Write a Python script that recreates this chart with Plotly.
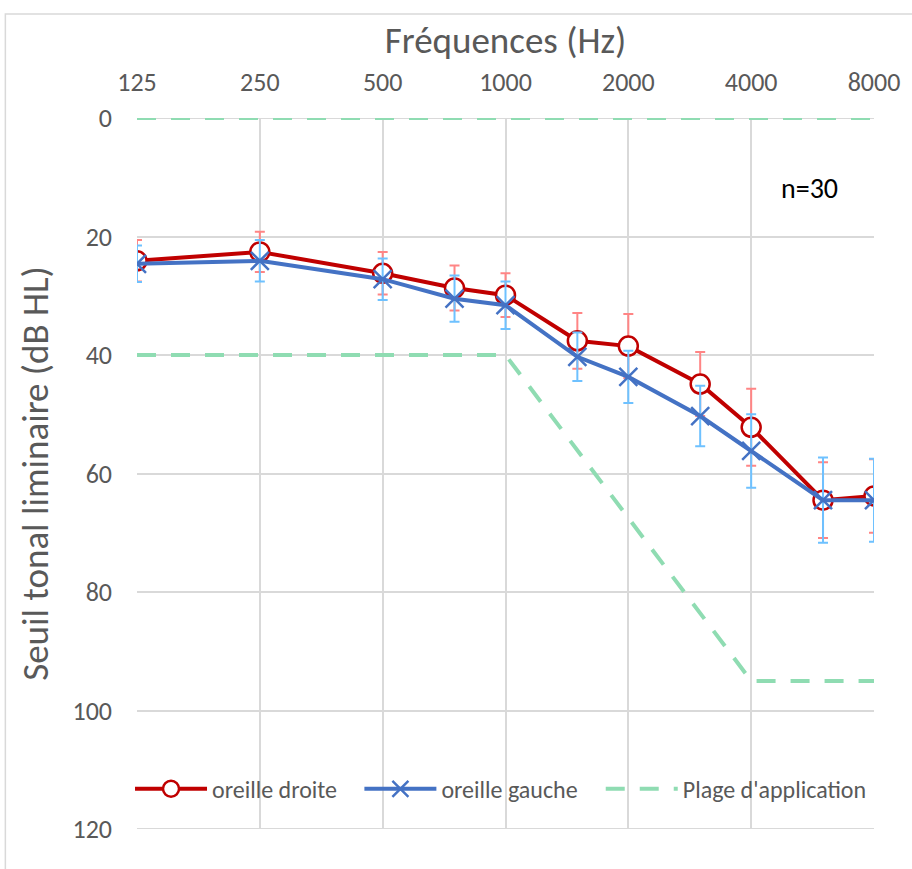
import plotly.graph_objects as go

freqs = [125, 250, 500, 750, 1000, 1500, 2000, 3000, 4000, 6000, 8000]
tick_freqs = [125, 250, 500, 1000, 2000, 4000, 8000]
tick_labels = ["125", "250", "500", "1000", "2000", "4000", "8000"]
y_ticks = [0, 20, 40, 60, 80, 100, 120]

droite = [24.1, 22.6, 26.2, 28.7, 29.9, 37.6, 38.5, 44.9, 52.2, 64.5, 63.8]
droite_err = [3.5, 3.4, 3.6, 3.8, 3.7, 4.7, 5.4, 5.4, 6.5, 6.4, 6.2]
gauche = [24.6, 24.1, 27.2, 30.5, 31.6, 40.3, 43.7, 50.3, 56.2, 64.5, 64.5]
gauche_err = [3.1, 3.5, 3.5, 3.9, 4.0, 4.1, 4.4, 5.1, 6.2, 7.2, 7.0]

plage_haut_f = [125, 8000]
plage_haut = [0, 0]
plage_bas_f = [125, 1000, 4000, 8000]
plage_bas = [40, 40, 95, 95]

FONT = "Carlito, Lato, sans-serif"
GREY = "#595959"
GREEN = "#8FDCB2"
GRID = "#D9D9D9"
DASH = "19px,15px"

fig = go.Figure()

# gridlines at the range edges (0 and 120)
for yv in (0, 120):
    fig.add_shape(type="line", xref="paper", yref="y", x0=0, x1=1, y0=yv, y1=yv,
                  line=dict(color=GRID, width=2), layer="below")

fig.add_trace(go.Scatter(
    x=plage_haut_f, y=plage_haut, mode="lines", name="Plage d'application",
    legendgroup="plage", showlegend=False,
    line=dict(color=GREEN, width=4, dash=DASH), hoverinfo="skip"))
fig.add_trace(go.Scatter(
    x=plage_bas_f, y=plage_bas, mode="lines", name="Plage d'application",
    legendgroup="plage", showlegend=False,
    line=dict(color=GREEN, width=4, dash=DASH), hoverinfo="skip"))

fig.add_trace(go.Scatter(
    x=freqs, y=droite, mode="lines+markers", name="oreille droite",
    legend="legend",
    line=dict(color="#C00000", width=4),
    marker=dict(symbol="circle", size=19, color="white",
                line=dict(color="#C00000", width=2.5)),
    error_y=dict(type="data", array=droite_err, visible=True,
                 color="#FF8585", thickness=2, width=5)))

fig.add_trace(go.Scatter(
    x=freqs, y=gauche, mode="lines+markers", name="oreille gauche",
    legend="legend2",
    line=dict(color="#4472C4", width=4),
    marker=dict(symbol="x-thin", size=18, color="#4472C4",
                line=dict(color="#4472C4", width=2.5)),
    error_y=dict(type="data", array=gauche_err, visible=True,
                 color="#6EC1FF", thickness=2, width=5)))

# legend-only entry for the range
fig.add_trace(go.Scatter(
    x=[None], y=[None], mode="lines", name="Plage d'application",
    legendgroup="plage", legend="legend3",
    line=dict(color=GREEN, width=4, dash=DASH)))

fig.update_xaxes(
    type="log", side="top",
    range=[2.0969100130080562, 3.9030899869919438],
    tickvals=tick_freqs, ticktext=tick_labels,
    showgrid=True, gridcolor=GRID, gridwidth=2,
    zeroline=False, showline=False, ticks="", ticklabelstandoff=21,
    tickfont=dict(family=FONT, size=26, color=GREY),
    title=dict(text="Fréquences (Hz)", font=dict(family=FONT, size=37, color=GREY),
               standoff=0),
)
fig.update_yaxes(
    range=[120, 0], tickvals=y_ticks,
    showgrid=True, gridcolor=GRID, gridwidth=2,
    zeroline=False, showline=False, ticks="", ticklabelstandoff=24,
    tickfont=dict(family=FONT, size=26, color=GREY),
    title=dict(text="Seuil tonal liminaire (dB HL)",
               font=dict(family=FONT, size=37, color=GREY), standoff=12),
)

fig.add_annotation(x=0.913, y=0.9015, xref="paper", yref="paper",
                   xanchor="center", yanchor="middle",
                   text="n=30", showarrow=False,
                   font=dict(family=FONT, size=28, color="black"))

fig.add_shape(type="rect", xref="paper", yref="paper",
              x0=(5 - 137) / 739, x1=(915 - 137) / 739,
              y0=(829 - 872) / 711, y1=(829 - 14) / 711,
              line=dict(color=GRID, width=1.5), fillcolor="rgba(0,0,0,0)",
              layer="below")

leg_common = dict(orientation="h", xanchor="left", y=0.056, yanchor="middle",
                  bgcolor="rgba(0,0,0,0)", font=dict(family=FONT, size=24, color=GREY),
                  itemwidth=72)

fig.update_layout(
    width=912, height=869,
    margin=dict(l=137, r=36, t=118, b=40),
    paper_bgcolor="white", plot_bgcolor="white",
    showlegend=True,
    legend=dict(x=(130 - 137) / 739, **leg_common),
    legend2=dict(x=(360 - 137) / 739, **leg_common),
    legend3=dict(x=(602 - 137) / 739, **leg_common),
)

fig.write_html("out.html")
